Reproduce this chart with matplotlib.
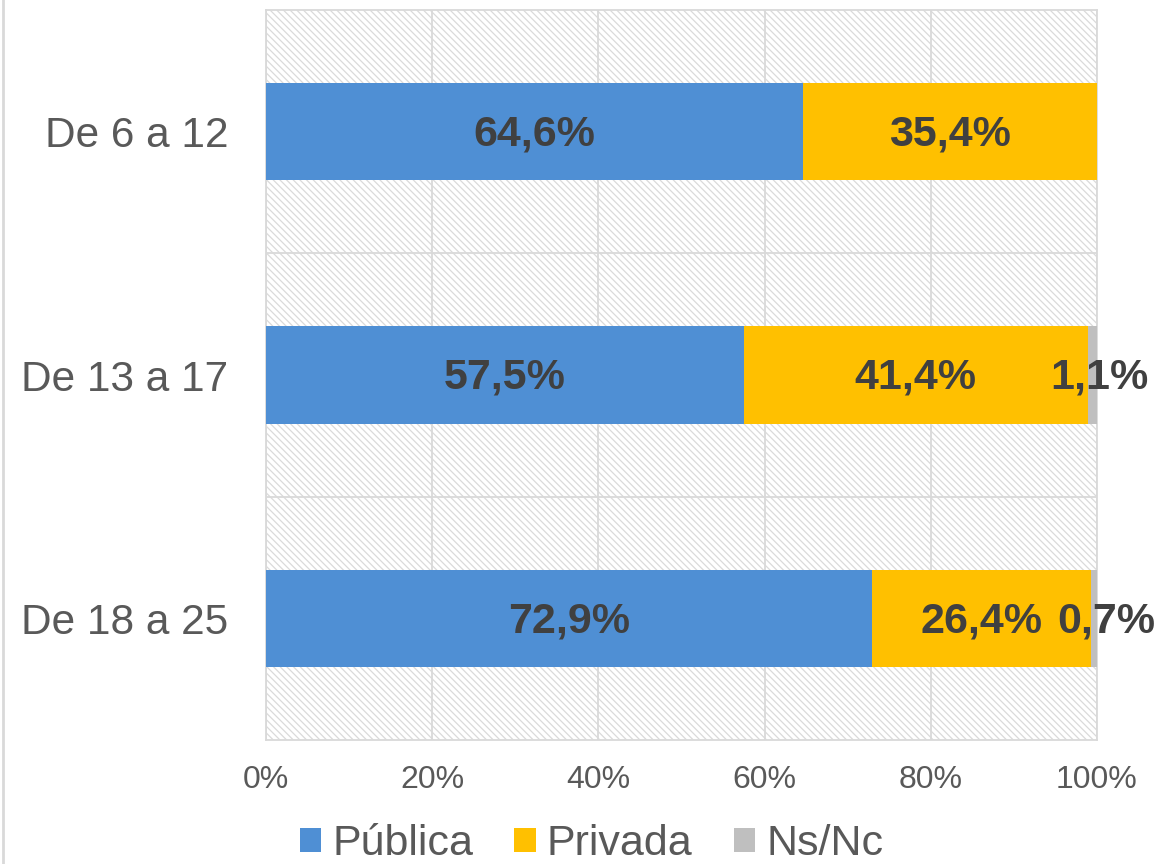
import matplotlib.pyplot as plt
from matplotlib.patches import Rectangle
from matplotlib.lines import Line2D

plt.rcParams['font.family'] = ['Liberation Sans', 'DejaVu Sans']
plt.rcParams['hatch.linewidth'] = 0.9

# datos
grupos = ['De 6 a 12', 'De 13 a 17', 'De 18 a 25']
publica = [64.6, 57.5, 72.9]
privada = [35.4, 41.4, 26.4]
nsnc = [0.0, 1.1, 0.7]
series = ['Pública', 'Privada', 'Ns/Nc']
colores = ['#4F8FD4', '#FFC000', '#BFBFBF']
ticks_x = [0, 20, 40, 60, 80, 100]

fig = plt.figure(figsize=(11.63, 8.64), dpi=100)
ax = fig.add_axes([266/1163, 1 - 740/864, (1097-266)/1163, (740-10)/864])

# fondo rayado
fondo = Rectangle((0, 0), 1, 1, transform=ax.transAxes, facecolor='white',
                  edgecolor='#DADADA', hatch='\\\\\\\\\\', linewidth=0, zorder=0)
ax.add_patch(fondo)

y = list(range(len(grupos)))
izq = [0, 0, 0]
for k, (valores, nombre, color) in enumerate(zip([publica, privada, nsnc], series, colores)):
    ax.barh(y, valores, left=izq, height=0.4, color=color, label=nombre, zorder=3)
    for i, v in enumerate(valores):
        if v > 0:
            # las etiquetas de Ns/Nc van un poco corridas a la derecha
            dx = [0, 7, 12][i] if k == 2 else 0
            ax.annotate(f"{v:.1f}%".replace('.', ','), (izq[i] + v / 2, i),
                        xytext=(dx * 0.72, -2), textcoords='offset points',
                        ha='center', va='center', fontsize=31, fontweight='bold',
                        color='#404040', zorder=4, annotation_clip=False)
    izq = [a + b for a, b in zip(izq, valores)]

ax.set_xlim(0, 100)
ax.set_ylim(2.5, -0.5)
ax.set_xticks(ticks_x)
ax.set_xticklabels([f"{t}%" for t in ticks_x])
ax.set_yticks(y)
ax.set_yticklabels(grupos)
ax.set_yticks([0.5, 1.5], minor=True)
ax.tick_params(axis='x', labelsize=23, colors='#595959', length=0, pad=18)
ax.tick_params(axis='y', labelsize=30.5, colors='#595959', length=0, pad=27)
ax.tick_params(axis='y', which='minor', length=0)
ax.grid(axis='x', color='#D9D9D9', linewidth=1.3, zorder=1)
ax.grid(axis='y', which='minor', color='#D9D9D9', linewidth=1.3, zorder=1)
ax.set_axisbelow(True)
for s in ax.spines.values():
    s.set_color('#D9D9D9')
    s.set_linewidth(1.3)

# borde izquierdo de la figura
fig.add_artist(Line2D([3/1163, 3/1163], [0, 1], color='#D9D9D9', linewidth=2))

fig.legend(loc='lower center', bbox_to_anchor=(0.5086, -0.045), ncol=3, frameon=False,
           fontsize=31, labelcolor='#595959', handlelength=0.5, handleheight=0.5,
           handletextpad=0.26, columnspacing=0.95)

fig.savefig('out.png', dpi=100)
